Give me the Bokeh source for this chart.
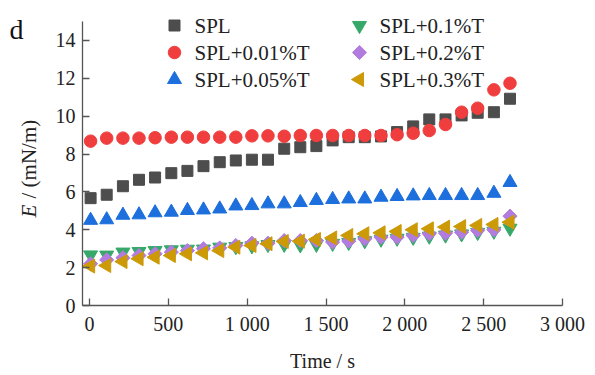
import math
from bokeh.plotting import figure
from bokeh.models import Range1d, FixedTicker, Label
from bokeh.embed import file_html
from bokeh.resources import INLINE

time_s = [7, 109, 212, 314, 416, 519, 621, 723, 826, 928, 1030, 1132, 1235, 1337,
          1439, 1542, 1644, 1746, 1849, 1951, 2053, 2155, 2258, 2360, 2462, 2565, 2667]
spl = [5.67, 5.85, 6.30, 6.64, 6.76, 6.99, 7.11, 7.36, 7.57, 7.66, 7.70, 7.70, 8.28, 8.36,
       8.42, 8.72, 8.89, 8.89, 8.93, 9.16, 9.46, 9.83, 9.83, 10.04, 10.18, 10.21, 10.92]
spl_001 = [8.68, 8.84, 8.84, 8.84, 8.86, 8.89, 8.89, 8.89, 8.89, 8.89, 8.96, 8.96, 8.94, 8.98,
           8.98, 8.98, 8.98, 8.98, 8.98, 9.02, 9.10, 9.24, 9.56, 10.21, 10.42, 11.39, 11.74]
spl_005 = [4.50, 4.53, 4.77, 4.79, 4.90, 4.93, 5.02, 5.05, 5.10, 5.26, 5.28, 5.37, 5.37, 5.44,
           5.55, 5.60, 5.63, 5.63, 5.72, 5.76, 5.79, 5.81, 5.81, 5.81, 5.81, 5.93, 6.50]
spl_01 = [2.67, 2.66, 2.82, 2.85, 2.90, 2.94, 2.97, 2.98, 3.08, 3.11, 3.15, 3.22, 3.23, 3.20,
          3.23, 3.28, 3.33, 3.42, 3.50, 3.55, 3.60, 3.66, 3.72, 3.78, 3.86, 3.92, 4.08]
spl_02 = [2.20, 2.41, 2.52, 2.64, 2.73, 2.82, 2.90, 3.00, 3.04, 3.17, 3.29, 3.29, 3.43, 3.43,
          3.43, 3.35, 3.40, 3.52, 3.61, 3.61, 3.70, 3.79, 3.82, 3.87, 3.96, 4.00, 4.72]
spl_03 = [2.08, 2.11, 2.32, 2.47, 2.55, 2.64, 2.73, 2.78, 2.90, 3.08, 3.17, 3.26, 3.38, 3.40,
          3.49, 3.57, 3.70, 3.79, 3.84, 3.91, 4.00, 4.05, 4.14, 4.17, 4.23, 4.28, 4.40]

series_names = ["SPL", "SPL+0.01%T", "SPL+0.05%T", "SPL+0.1%T", "SPL+0.2%T", "SPL+0.3%T"]
x_ticks = [0, 500, 1000, 1500, 2000, 2500, 3000]
x_tick_labels = ["0", "500", "1 000", "1 500", "2 000", "2 500", "3 000"]
y_ticks = [0, 2, 4, 6, 8, 10, 12, 14]

FONT = "Liberation Serif"
TXT = "#222222"
W, H = 595, 375

# The frame covers the whole canvas; both axes are pinned inside it (fixed_location),
# so every text annotation stays inside the frame and is not clipped.
X0, X1 = -564.5, 3209.3
Y0, Y1 = -3.697, 16.109
p = figure(width=W, height=H, output_backend="svg", toolbar_location=None,
           x_range=Range1d(X0, X1), y_range=Range1d(Y0, Y1),
           min_border_left=0, min_border_right=0, min_border_top=0, min_border_bottom=0)
p.outline_line_color = None
p.grid.visible = False
p.background_fill_color = "white"
p.border_fill_color = "white"

for ax in (p.xaxis[0], p.yaxis[0]):
    ax.axis_line_color = "#555555"
    ax.axis_line_width = 1.3
    ax.major_tick_line_color = "#555555"
    ax.major_tick_line_width = 1.3
    ax.major_tick_in = 7
    ax.major_tick_out = 0
    ax.minor_tick_line_color = None
    ax.major_label_text_font = FONT
    ax.major_label_text_font_size = "20px"
    ax.major_label_text_color = TXT

p.xaxis.ticker = FixedTicker(ticks=x_ticks)
p.xaxis.major_label_overrides = {t: l for t, l in zip(x_ticks, x_tick_labels)}
p.xaxis.major_label_standoff = 7
p.xaxis.axis_label = "Time / s"
p.xaxis.axis_label_text_font = FONT
p.xaxis.axis_label_text_font_style = "normal"
p.xaxis.axis_label_text_font_size = "20px"
p.xaxis.axis_label_text_color = TXT
p.xaxis.axis_label_standoff = 12
p.xaxis.bounds = (-45, 3000)
p.xaxis.fixed_location = 0

p.yaxis.ticker = FixedTicker(ticks=y_ticks)
p.yaxis.major_label_standoff = 7
p.yaxis.bounds = (0, 15)
p.yaxis.fixed_location = -45

styles = [
    dict(marker="square", size=11, color="#4d4d4d"),
    dict(marker="circle", size=12.5, color="#f03e3e"),
    dict(marker="triangle", size=14, color="#1c6fdc"),
    dict(marker="inverted_triangle", size=14, color="#36a96a"),
    dict(marker="square", angle=math.pi / 4, size=10, color="#b27cde"),
    dict(marker="triangle", angle=math.pi / 2, size=14, color="#cc9a06"),
]
series = [spl, spl_001, spl_005, spl_01, spl_02, spl_03]
for vals, st in zip(series, styles):
    p.scatter(time_s, vals, **st)


# legend (two columns of three) built from layout positions in canvas pixels
def px_x(px):
    return X0 + px * (X1 - X0) / W


def px_y(py):
    return Y1 - py * (Y1 - Y0) / H


leg_cols = [174, 359]
leg_rows = [25, 52, 79]
for i, (name, st) in enumerate(zip(series_names, styles)):
    cx = leg_cols[i // 3]
    cy = leg_rows[i % 3]
    p.scatter([px_x(cx)], [px_y(cy)], **st)
    p.add_layout(Label(x=cx + 20, y=H - cy, x_units="screen", y_units="screen", text=name,
                       text_font=FONT, text_font_size="21px", text_color=TXT,
                       text_align="left", text_baseline="middle"))

# y title: italic E + "/ (mN/m)", rotated
p.add_layout(Label(x=28.5, y=H - 217, x_units="screen", y_units="screen", text="E",
                   angle=math.pi / 2, text_font=FONT, text_font_style="italic",
                   text_font_size="21px", text_color=TXT,
                   text_align="left", text_baseline="alphabetic"))
p.add_layout(Label(x=28.5, y=H - 198, x_units="screen", y_units="screen", text="/ (mN/m)",
                   angle=math.pi / 2, text_font=FONT, text_font_size="21px", text_color=TXT,
                   text_align="left", text_baseline="alphabetic"))
# panel letter
p.add_layout(Label(x=9, y=H - 29, x_units="screen", y_units="screen", text="d",
                   text_font=FONT, text_font_size="28px", text_color="#111111",
                   text_align="left", text_baseline="alphabetic"))

open("out.html", "w").write(file_html(p, INLINE))
